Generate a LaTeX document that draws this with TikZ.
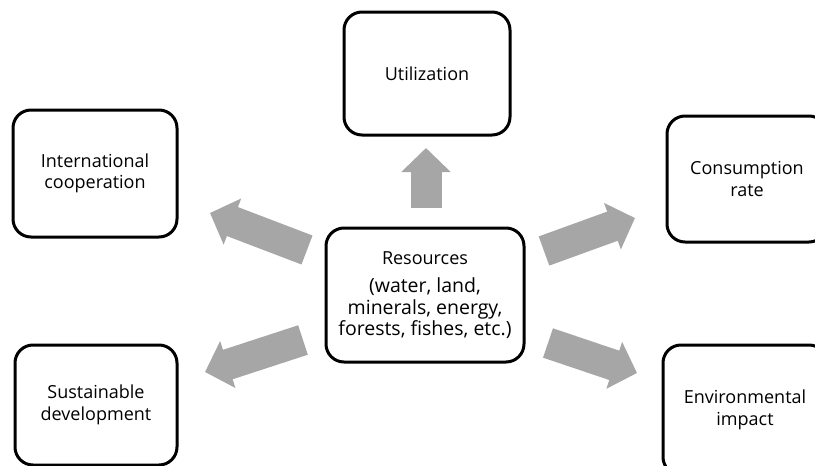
\documentclass[tikz,border=0pt]{standalone}
\usepackage{fontspec}
\setmainfont{Open Sans}
\usetikzlibrary{arrows.meta}
\definecolor{arrowgray}{RGB}{166,166,166}
\newcommand{\resfont}{\fontsize{19.5}{22}\selectfont}
\tikzset{
  box/.style={draw=black, line width=3pt, rounded corners=18pt, fill=white,
    align=center, inner sep=0pt, font=\fontsize{18}{21.5}\selectfont},
  fat/.style={draw=arrowgray, line width=31pt,
    -{Triangle[width=48pt,length=24pt]}},
}
\begin{document}
\begin{tikzpicture}[x=1pt,y=-1pt]
\useasboundingbox (0,0) rectangle (815,466);
\node[box, minimum width=166pt, minimum height=123pt] (util) at (427,73.5) {Utilization};
\node[box, minimum width=198pt, minimum height=134pt] (res) at (425,295) {Resources\\[7pt]\resfont (water, land,\\\resfont minerals, energy,\\\resfont forests, fishes, etc.)};
\node[box, minimum width=164pt, minimum height=127pt] (intl) at (95,173.5) {International\\cooperation};
\node[box, minimum width=160pt, minimum height=126pt] (cons) at (747,179) {Consumption\\rate};
\node[box, minimum width=164pt, minimum height=130pt] (env) at (745,410) {Environmental\\impact};
\node[box, minimum width=162pt, minimum height=120pt] (sust) at (96,405) {Sustainable\\development};
\coordinate (upA) at (426,208); \coordinate (upB) at (426,148);
\coordinate (ulA) at (307,250); \coordinate (ulB) at (210,213);
\coordinate (llA) at (303,340); \coordinate (llB) at (205,372);
\coordinate (urA) at (544,251); \coordinate (urB) at (635,218);
\coordinate (lrA) at (548,343); \coordinate (lrB) at (637,373);
\draw[fat] (upA) -- (upB);
\draw[fat] (ulA) -- (ulB);
\draw[fat] (llA) -- (llB);
\draw[fat] (urA) -- (urB);
\draw[fat] (lrA) -- (lrB);
\end{tikzpicture}
\end{document}
